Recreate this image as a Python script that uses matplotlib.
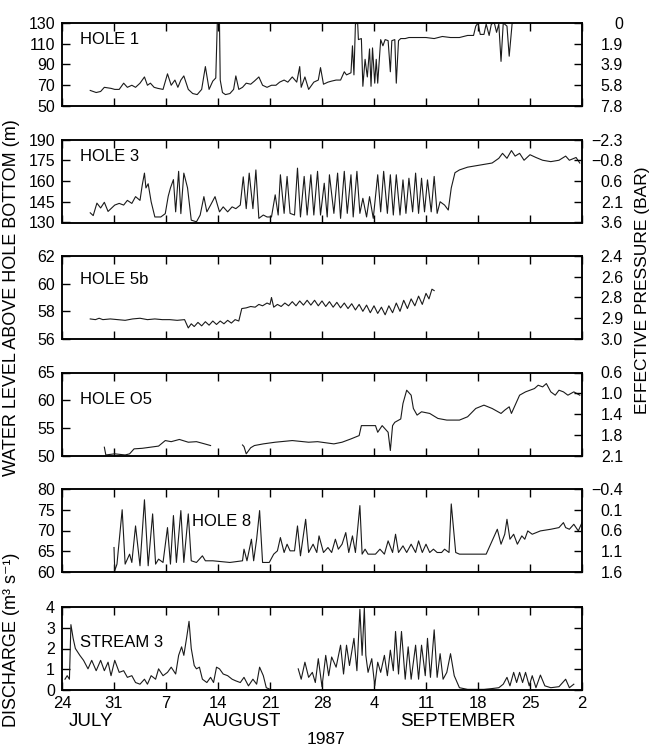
import numpy as np
import matplotlib
matplotlib.use("Agg")
import matplotlib.pyplot as plt

plt.rcParams['font.family'] = ['Liberation Sans', 'DejaVu Sans']

nan = np.nan

# days counted from 24 July 1987
hole1_day = [3.8, 4.6, 5.2, 5.7, 6.6, 7.1, 7.7, 8.3, 8.8, 9.4,
             9.9, 10.5, 11.1, 11.5, 11.9, 12.4, 12.9, 13.6, 14.2, 14.7,
             15.2, 15.6, 16.0, 16.4, 17.0, 17.6, 18.2, 18.8, 19.3, 19.8,
             20.3, 20.7, 20.9, 21.0, 21.2, 21.3, 21.6, 22.0, 22.6, 23.1,
             23.4, 23.8, 24.3, 24.8, 25.4, 25.9, 26.5, 27.0, 27.6, 28.2,
             28.8, 29.3, 29.9, 30.4, 31.0, 31.6, 32.0, 32.2, 32.7, 33.2,
             33.9, 34.5, 34.8, 35.2, 35.8, 36.3, 36.9, 37.5, 38.0, 38.3,
             38.9, 39.1, 39.3, 39.5, 39.8, 39.9, 40.3, 40.5, 40.8, 41.1,
             41.4, 41.6, 41.8, 42.1, 42.3, 42.5, 42.9, 43.2, 43.5, 43.9,
             44.2, 44.4, 44.8, 45.0, 45.3, 45.6, 46.2, 46.7, 47.8, 49.0,
             50.1, 51.2, 52.3, 53.5, 54.6, 55.4, 55.7, 56.0, 56.3, 56.8,
             57.1, 57.5, 57.8, 58.2, 58.5, 58.8, 59.1, 59.4, 59.9, 60.2,
             60.6, 60.8]
hole1_level = [65, 63, 64, 68, 67, 66, 66, 72, 68, 70,
               68, 72, 78, 70, 72, 68, 67, 66, 81, 70,
               75, 68, 75, 79, 66, 62, 61, 66, 88, 66,
               74, 77, 129, 130, 130, 75, 63, 61, 62, 66,
               79, 66, 68, 72, 71, 74, 78, 70, 68, 70,
               70, 73, 75, 73, 78, 73, 88, 68, 78, 66,
               73, 75, 87, 71, 73, 74, 75, 75, 83, 80,
               82, 108, 80, 129, 130, 114, 115, 69, 95, 78,
               105, 69, 106, 72, 95, 72, 114, 108, 114, 113,
               83, 113, 114, 72, 113, 115, 115, 116, 116, 116,
               115, 117, 116, 116, 118, 118, 127, 130, 119, 119,
               129, 118, 129, 130, 121, 129, 93, 130, 127, 98,
               130, 130]

hole3_day = [3.8, 4.2, 4.7, 5.2, 5.7, 6.2, 6.6, 7.1, 7.7, 8.3,
             8.8, 9.4, 9.9, 10.5, 10.8, 11.1, 11.3, 11.6, 12.0, 12.5,
             13.3, 13.9, 14.3, 14.6, 15.0, 15.3, 15.7, 16.0, 16.4, 16.9,
             17.4, 18.1, 18.6, 19.1, 19.5, 20.0, 20.6, 21.2, 21.7, 22.3,
             22.9, 23.4, 24.0, 24.4, 24.8, 25.2, 25.7, 26.1, 26.5, 27.1,
             27.6, 28.2, 28.7, 29.1, 29.4, 29.9, 30.3, 30.7, 31.3, 31.7,
             32.1, 32.6, 33.0, 33.5, 33.9, 34.4, 34.8, 35.3, 35.7, 36.0,
             36.6, 37.1, 37.5, 38.0, 38.4, 38.9, 39.2, 39.7, 40.1, 40.5,
             41.0, 41.4, 41.9, 42.5, 42.9, 43.3, 43.8, 44.2, 44.6, 45.0,
             45.5, 45.9, 46.3, 46.7, 47.2, 47.6, 48.0, 48.4, 48.8, 49.2,
             49.7, 50.1, 50.5, 50.9, 51.5, 52.0, 52.4, 52.9, 53.5, 54.6,
             55.7, 56.8, 57.9, 58.8, 59.3, 59.9, 60.5, 61.0, 61.6, 62.2,
             63.0, 63.8, 64.7, 65.8, 66.9, 67.8, 68.3, 69.2, 69.7]
hole3_level = [137, 135, 144, 140.5, 144.6, 138, 140, 142.6, 143.8, 142.6,
               146, 143.8, 148.7, 146, 157, 165.7, 155, 158, 145, 134,
               134, 136.4, 149, 155, 161, 137.7, 167, 136.4, 165.7, 155,
               131.7, 130.5, 135.4, 148.7, 137.7, 142.6, 148.7, 137.7, 141.3, 137.7,
               141.3, 140, 142.6, 163, 140, 165.7, 140, 168, 133, 135.4,
               134, 134, 150, 135.4, 164.5, 136.6, 163.3, 136.6, 135.4, 169.3,
               134, 163.3, 135.4, 164.5, 135.4, 167, 135.4, 158.4, 134, 164.5,
               136.6, 165.7, 133, 167, 136.6, 164.5, 134, 167, 136.6, 147.5,
               134, 148.7, 133, 164.5, 137.7, 167, 136.6, 164.5, 135.4, 164.5,
               135.4, 160.8, 136.6, 162, 137.7, 165.7, 136.6, 162, 137.7, 160.8,
               137.7, 163.3, 136.6, 145, 142.6, 139, 155, 166, 168, 170,
               171, 172, 173, 176.4, 180, 176.4, 182, 178, 180, 175,
               179, 177, 175, 174, 175, 178, 175, 177, 173]

hole5b_day = [3.8, 4.5, 5.0, 5.5, 6.5, 7.5, 8.5, 9.5, 10.5, 11.5,
              12.5, 13.5, 14.5, 15.5, 16.5, 17.0, 17.4, 17.8, 18.3, 18.8,
              19.3, 19.8, 20.3, 20.8, 21.3, 21.8, 22.3, 22.8, 23.3, 23.8,
              24.2, 24.8, 25.4, 26.0, 26.5, 27.0, 27.6, 28.0, 28.2, 28.5,
              29.0, 29.5, 30.0, 30.5, 31.0, 31.5, 32.0, 32.5, 33.0, 33.5,
              34.0, 34.5, 35.0, 35.5, 36.0, 36.5, 37.0, 37.5, 38.0, 38.5,
              39.0, 39.5, 40.0, 40.5, 41.0, 41.5, 42.0, 42.5, 43.0, 43.5,
              44.0, 44.5, 45.0, 45.5, 46.0, 46.5, 47.0, 47.5, 48.0, 48.5,
              49.0, 49.4, 49.8, 50.1]
hole5b_level = [57.45, 57.4, 57.5, 57.4, 57.45, 57.4, 57.35, 57.45, 57.5, 57.4,
                57.45, 57.4, 57.4, 57.35, 57.4, 56.8, 57.1, 56.9, 57.2, 56.95,
                57.25, 57.0, 57.3, 57.05, 57.3, 57.1, 57.35, 57.15, 57.4, 57.3,
                58.2, 58.25, 58.35, 58.3, 58.5, 58.4, 58.6, 58.5, 59.0, 58.3,
                58.5, 58.35, 58.6, 58.4, 58.7, 58.4, 58.75, 58.45, 58.8, 58.45,
                58.8, 58.4, 58.75, 58.35, 58.7, 58.3, 58.65, 58.25, 58.6, 58.2,
                58.55, 58.1, 58.5, 58.0, 58.45, 57.9, 58.4, 57.85, 58.3, 57.75,
                58.4, 57.9, 58.6, 58.0, 58.8, 58.2, 58.9, 58.4, 59.1, 58.5,
                59.3, 58.9, 59.6, 59.5]

holeO5_day = [5.7, 5.9, 7.1, 8.5, 9.1, 9.7, 10.8, 11.9, 13.0, 13.9,
              14.7, 15.8, 17.0, 18.1, 19.2, 20.0, nan, 24.3, 24.5, 24.8,
              25.4, 25.9, 27.1, 28.7, 31.0, 33.2, 34.4, 36.6, 37.7, 38.9,
              40.0, 40.3, 42.2, 42.5, 43.1, 43.3, 43.9, 44.2, 44.5, 44.8,
              45.6, 45.9, 46.4, 47.0, 47.3, 47.8, 48.4, 49.5, 50.6, 51.8,
              53.5, 54.6, 55.7, 56.8, 57.9, 59.1, 59.6, 60.2, 60.5, 61.0,
              61.6, 62.4, 63.6, 64.1, 64.7, 65.2, 65.8, 66.4, 66.9, 67.5,
              68.1, 68.9, 69.7]
holeO5_level = [51.5, 50.1, 50.3, 50.1, 50.3, 51.2, 51.3, 51.5, 51.7, 52.7,
                52.5, 52.9, 52.4, 52.5, 52.1, 51.8, nan, 51.9, 51.6, 50.3,
                51.4, 51.8, 52.1, 52.4, 52.7, 52.4, 52.5, 52.1, 52.4, 53.0,
                53.6, 55.4, 55.4, 54.2, 55.4, 55.1, 54.2, 50.9, 55.4, 56.0,
                56.6, 59.4, 61.8, 60.9, 58.5, 57.3, 57.9, 57.6, 56.7, 56.4,
                56.4, 57.0, 58.5, 59.1, 58.5, 57.6, 58.2, 58.8, 57.6, 59.1,
                60.9, 61.5, 62.1, 62.7, 62.4, 63.0, 61.5, 60.9, 61.8, 61.5,
                60.9, 61.5, 60.9]

hole8_day = [7.0, 7.1, 7.4, 8.1, 8.5, 9.1, 9.4, 9.9, 10.5, 11.1,
             11.6, 12.2, 12.6, 13.0, 13.6, 14.2, 14.6, 15.0, 15.4, 16.0,
             16.4, 17.0, 17.4, 18.1, 18.9, 19.3, 20.3, 22.6, 24.3, 24.5,
             24.9, 25.5, 25.8, 26.2, 26.6, 27.0, 27.9, 28.5, 29.0, 29.4,
             29.9, 30.3, 30.7, 31.3, 31.7, 32.1, 32.8, 33.2, 33.8, 34.3,
             34.6, 35.2, 35.8, 36.3, 36.8, 37.2, 37.7, 38.2, 38.6, 39.1,
             39.5, 40.1, 40.4, 40.8, 41.2, 42.2, 42.8, 43.4, 43.9, 44.5,
             44.9, 45.3, 45.9, 46.4, 47.0, 47.6, 48.0, 48.5, 49.0, 49.5,
             50.0, 50.5, 51.1, 51.5, 52.1, 52.4, 53.0, 53.5, 55.7, 57.1,
             57.9, 58.6, 59.1, 59.6, 59.9, 60.3, 60.8, 61.3, 61.9, 62.3,
             62.7, 63.3, 64.4, 65.8, 66.9, 67.5, 67.8, 68.3, 68.9, 69.5,
             70.0]
hole8_level = [65.9, 60.3, 61.9, 75.0, 61.9, 64.3, 62.3, 71.1, 61.5, 77.4,
               61.5, 74.0, 61.9, 63.1, 62.3, 70.7, 61.9, 73.6, 62.3, 74.8,
               62.3, 74.0, 62.7, 62.3, 63.9, 62.7, 62.7, 62.3, 62.7, 65.5,
               62.7, 67.9, 62.7, 67.9, 74.8, 62.3, 62.3, 64.3, 65.1, 68.3,
               64.7, 66.7, 65.1, 65.1, 71.1, 63.9, 72.7, 64.7, 66.7, 64.7,
               68.7, 64.7, 65.9, 64.7, 67.9, 65.5, 66.7, 69.5, 64.7, 68.7,
               64.7, 76.0, 64.3, 65.5, 64.3, 64.3, 65.5, 64.3, 67.5, 64.7,
               69.1, 64.7, 66.3, 64.7, 66.7, 64.7, 67.5, 64.7, 66.7, 64.7,
               65.5, 64.7, 64.7, 65.5, 64.7, 76.4, 64.7, 64.3, 64.3, 64.3,
               67.5, 70.3, 66.7, 69.1, 72.7, 67.9, 69.1, 66.7, 68.7, 67.9,
               69.9, 69.1, 69.9, 70.3, 70.7, 71.9, 70.7, 70.3, 71.5, 69.9,
               71.9]

stream3_day = [0.4, 0.7, 1.0, 1.2, 1.5, 1.8, 2.4, 2.9, 3.5, 4.0,
               4.6, 5.2, 5.7, 6.2, 6.6, 7.1, 7.7, 8.3, 8.8, 9.4,
               9.9, 10.5, 11.1, 11.5, 12.0, 12.6, 13.0, 13.6, 14.2, 14.7,
               15.3, 15.7, 16.1, 16.4, 16.8, 17.1, 17.4, 17.8, 18.1, 18.5,
               18.9, 19.5, 20.0, 20.4, 20.8, 21.2, 21.7, 22.3, 22.9, 23.4,
               24.0, 24.5, 25.1, 25.7, 26.2, 26.6, 27.1, 27.5, 27.9, nan,
               31.8, 32.2, 32.7, 33.2, 33.7, 34.1, 34.5, 35.0, 35.5, 35.9,
               36.3, 36.9, 37.5, 37.9, 38.3, 38.7, 39.3, 39.7, 40.1, 40.4,
               40.7, 40.9, 41.2, 41.7, 42.1, 42.5, 42.9, 43.4, 43.8, 44.2,
               44.6, 44.9, 45.3, 45.7, 46.2, 46.6, 47.0, 47.6, 48.0, 48.4,
               48.9, 49.2, 49.6, 50.1, 50.5, 50.9, 51.3, 51.8, 52.3, 52.8,
               53.5, 54.6, 55.7, 56.8, 57.9, 58.8, 59.4, 59.9, 60.3, 60.8,
               61.2, 61.6, 62.0, 62.4, 62.9, 63.3, 63.8, 64.4, 65.0, 65.8,
               66.9, 67.8, 68.3, 68.9]
stream3_q = [0.52, 0.69, 0.52, 3.15, 2.49, 2.0, 1.67, 1.43, 1.02, 1.43,
             0.93, 1.43, 0.93, 1.34, 0.69, 1.43, 0.85, 0.93, 0.61, 0.69,
             0.36, 0.28, 0.52, 0.28, 0.69, 0.52, 1.02, 0.69, 0.85, 1.1,
             0.77, 1.67, 2.08, 1.67, 2.57, 3.31, 2.0, 1.18, 1.02, 1.1,
             0.52, 0.36, 0.61, 0.36, 1.1, 1.02, 0.77, 0.69, 0.52, 0.44,
             0.36, 0.61, 0.2, 0.52, 0.28, 1.1, 0.69, 0.11, 0.05, nan,
             1.02, 0.52, 1.34, 0.61, 0.85, 0.36, 1.51, 0.16, 1.67, 0.69,
             1.59, 1.1, 2.16, 0.77, 2.16, 1.18, 2.49, 0.93, 3.89, 1.67,
             3.97, 1.67, 0.85, 1.51, 0.2, 1.34, 0.85, 1.67, 0.69, 1.92,
             0.93, 2.82, 0.77, 2.82, 0.52, 2.08, 0.52, 2.16, 0.52, 2.16,
             0.69, 2.49, 0.61, 2.9, 0.61, 1.75, 0.52, 0.85, 1.75, 0.69,
             0.11, 0.03, 0.03, 0.03, 0.07, 0.11, 0.28, 0.61, 0.2, 0.85,
             0.36, 0.85, 0.36, 0.85, 0.2, 0.69, 0.11, 0.72, 0.2, 0.11,
             0.16, 0.52, 0.11, 0.28]

# axis ticks / labels
day_ticks = [0, 7, 14, 21, 28, 35, 42, 49, 56, 63, 70]
day_labels = ['24', '31', '7', '14', '21', '28', '4', '11', '18', '25', '2']
months = ['JULY', 'AUGUST', 'SEPTEMBER']

names = ['HOLE 1', 'HOLE 3', 'HOLE 5b', 'HOLE O5', 'HOLE 8', 'STREAM 3']
xs = [hole1_day, hole3_day, hole5b_day, holeO5_day, hole8_day, stream3_day]
ys = [hole1_level, hole3_level, hole5b_level, holeO5_level, hole8_level, stream3_q]
ylims = [(50, 130), (130, 190), (56, 62), (50, 65), (60, 80), (0, 4)]
left_ticks = [[50, 70, 90, 110, 130], [130, 145, 160, 175, 190], [56, 58, 60, 62],
              [50, 55, 60, 65], [60, 65, 70, 75, 80], [0, 1, 2, 3, 4]]
pressure_labels = [['7.8', '5.8', '3.9', '1.9', '0'],
                   ['3.6', '2.1', '0.6', '\u22120.8', '\u22122.3'],
                   ['3.0', '2.9', '2.8', '2.6', '2.4'],
                   ['2.1', '1.8', '1.4', '1.0', '0.6'],
                   ['1.6', '1.1', '0.6', '0.1', '\u22120.4'],
                   ['', '', '', '', '']]
name_pos = [(0.035, 0.80), (0.035, 0.79), (0.035, 0.72), (0.035, 0.67), (0.25, 0.61), (0.035, 0.57)]

W, H = 654, 749
fig = plt.figure(figsize=(W / 100, H / 100), dpi=100)
xl, xr = 62, 582
tops = [23, 139.5, 256, 372.5, 489, 607]
ph = 83

for i in range(6):
    ax = fig.add_axes([xl / W, 1 - (tops[i] + ph) / H, (xr - xl) / W, ph / H])
    ax.plot(xs[i], ys[i], color='#1a1a1a', lw=0.8)
    ax.set_xlim(0, 70)
    ax.set_ylim(*ylims[i])
    ax.set_xticks(day_ticks)
    ax.set_yticks(left_ticks[i])
    ax.set_yticklabels([str(t) for t in left_ticks[i]])
    ax.tick_params(axis='x', direction='in', top=True, bottom=True, length=6, width=1)
    ax.tick_params(axis='y', direction='in', left=True, right=False, length=6, width=1,
                   labelsize=11.5, pad=5)
    if i == 5:
        ax.set_xticklabels(day_labels)
        ax.tick_params(axis='x', labelsize=12, pad=4)
    else:
        ax.set_xticklabels([])
    for s in ax.spines.values():
        s.set_linewidth(1.1)
    ax.text(name_pos[i][0], name_pos[i][1], names[i], transform=ax.transAxes,
            fontsize=12, va='center', ha='left')

    ax2 = ax.twinx()
    ax2.set_ylim(*ylims[i])
    rpos = np.linspace(ylims[i][0], ylims[i][1], 5)
    ax2.set_yticks(rpos)
    ax2.set_yticklabels(pressure_labels[i])
    ax2.tick_params(axis='y', direction='in', length=6, width=1, labelsize=11.5, pad=29.5)
    for lab in ax2.get_yticklabels():
        lab.set_horizontalalignment('right')
    for s in ax2.spines.values():
        s.set_linewidth(1.1)

fig.text(91 / W, 1 - 722 / H, months[0], fontsize=13.5, ha='center', va='center')
fig.text(242 / W, 1 - 722 / H, months[1], fontsize=13.5, ha='center', va='center')
fig.text(458 / W, 1 - 722 / H, months[2], fontsize=13.5, ha='center', va='center')
fig.text(326 / W, 1 - 740 / H, '1987', fontsize=12.5, ha='center', va='center')

fig.text(12 / W, 1 - 298 / H, 'WATER LEVEL ABOVE HOLE BOTTOM (m)', rotation=90,
         fontsize=13, ha='center', va='center')
fig.text(12 / W, 1 - 640 / H, 'DISCHARGE (m\u00b3 s\u207b\u00b9)', rotation=90,
         fontsize=13, ha='center', va='center')
fig.text(643 / W, 1 - 290 / H, 'EFFECTIVE PRESSURE (BAR)', rotation=90,
         fontsize=12.5, ha='center', va='center')

fig.savefig('out.png', dpi=100, facecolor='white')
